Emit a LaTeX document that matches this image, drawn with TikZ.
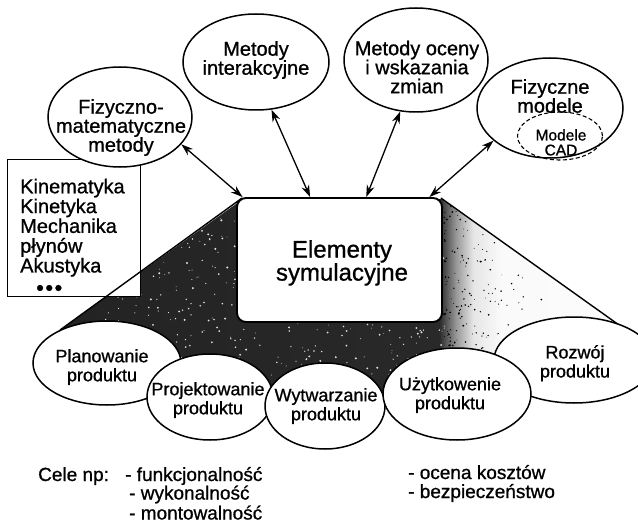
\documentclass[tikz,border=0pt]{standalone}
\usepackage{fontspec}
\setmainfont{Liberation Sans}[UprightFeatures={FakeBold=0.9}]
\usetikzlibrary{shapes.geometric, arrows.meta}

% dark stipple on the left fading out towards the right
\pgfdeclarehorizontalshading{dimfade}{100bp}{%
  color(0bp)=(black!88); color(58.5bp)=(black!84); color(60bp)=(black!40);
  color(61.5bp)=(black!10); color(64bp)=(black!2); color(100bp)=(white)}

\tikzset{
  oval/.style={draw, ellipse, line width=1.5pt, fill=white, inner sep=0pt},
  toptext/.style={font=\fontsize{20}{19}\selectfont, align=center, inner sep=0pt, anchor=north},
  bottext/.style={font=\fontsize{18}{19}\selectfont, align=center, inner sep=0pt, anchor=north},
  goal/.style={font=\fontsize{19}{19}\selectfont, inner sep=0pt, anchor=base west},
  twoway/.style={{Stealth[length=12pt,width=8pt]}-{Stealth[length=12pt,width=8pt]}, line width=1.3pt},
  edge/.style={line width=1.4pt},
}

\begin{document}
\begin{tikzpicture}[x=1pt, y=-1pt]
\useasboundingbox (0,0) rectangle (638,527);

% shaded funnel behind the central block, with a grainy stipple
\def\funnel{(243,199) -- (442,199) -- (626,330) -- (600,395) -- (100,395) -- (60,330) -- cycle}
\shade[shading=dimfade] \funnel;
\begin{scope}
  \clip \funnel;
  \pgfmathsetseed{11}
  \foreach \i in {1,...,650}{
    \pgfmathsetmacro\px{60+385*rnd}
    \pgfmathsetmacro\py{199+196*rnd}
    \pgfmathsetmacro\pr{0.35+0.8*rnd}
    \fill[white, opacity=0.85] (\px,\py) circle[radius=\pr pt];
  }
  \foreach \i in {1,...,160}{
    \pgfmathsetmacro\px{444+110*rnd*rnd}
    \pgfmathsetmacro\py{205+150*rnd}
    \pgfmathsetmacro\pr{0.4+0.6*rnd}
    \fill[black] (\px,\py) circle[radius=\pr pt];
  }
\end{scope}

% knowledge box
\node[draw, line width=1.3pt, fill=white, anchor=north west, inner sep=0pt,
      minimum width=133pt, minimum height=137pt] (kbox) at (7,159) {};
\node[font=\fontsize{20}{19.8}\selectfont, align=left, anchor=north west, inner sep=0pt]
  (ktext) at (20,178.6) {Kinematyka\\Kinetyka\\Mechanika\\płynów\\Akustyka\\[3pt]%
  \hspace*{16pt}{\fontsize{22}{22}\selectfont •\kern1.5pt•\kern1.5pt•}};

% central block
\node[draw, line width=1.9pt, fill=white, rounded corners=9pt, inner sep=0pt,
      minimum width=205pt, minimum height=124pt] (rect) at (339.5,260) {};
\node[font=\fontsize{24}{23}\selectfont, align=center, inner sep=0pt, anchor=north]
  (rtext) at (342,240) {Elementy\\symulacyjne};

% side edges of the funnel
\coordinate (fl) at (60,330);
\coordinate (fr) at (626,330);
\draw[edge] (rect.north west) ++(6,1) coordinate (rnw) -- (fl);
\draw[edge] (rect.north east) ++(-2,1) coordinate (rne) -- (fr);

% method ovals
\node[oval, minimum width=144pt, minimum height=100pt] (fm) at (120,117) {};
\node[toptext] (fmt) at (121,99) {Fizyczno-\\matematyczne\\metody};

\node[oval, minimum width=146pt, minimum height=96pt] (mi) at (256,62) {};
\node[toptext] (mit) at (256,41) {Metody\\interakcyjne};

\node[oval, minimum width=144pt, minimum height=104pt] (mo) at (416,60) {};
\node[toptext] (mot) at (417,40.5) {Metody oceny\\i wskazania\\zmian};

\node[oval, minimum width=146pt, minimum height=100pt] (fmod) at (550,108) {};
\node[toptext] (fmodt) at (550,79) {Fizyczne\\modele};
\node[draw, ellipse, dashed, line width=1.1pt, dash pattern=on 4pt off 2.5pt, inner sep=0pt,
      minimum width=85pt, minimum height=48pt] (cad) at (560,136) {};
\node[font=\fontsize{15.5}{15}\selectfont, align=center, inner sep=0pt, anchor=north]
  (cadt) at (561,129) {Modele\\CAD};

% links to the central block
\draw[twoway] (fm.-24) -- (rect.147);
\draw[twoway] (mi.-72) -- (rect.115);
\draw[twoway] (mo.-107) -- (rect.67);
\draw[twoway] (fmod.-150) -- (rect.35);

% life-cycle ovals
\node[oval, minimum width=148pt, minimum height=84pt] (plan) at (107,363) {};
\node[bottext] (plant) at (102,349) {Planowanie\\produktu};

\node[oval, minimum width=126pt, minimum height=86pt] (proj) at (210,397) {};
\node[bottext] (projt) at (208,382) {Projektowanie\\produktu};

\node[oval, minimum width=120pt, minimum height=86pt] (wyt) at (325,406) {};
\node[bottext] (wytt) at (326,388) {Wytwarzanie\\produktu};

\node[oval, minimum width=160pt, minimum height=86pt] (roz) at (574,360) {};
\node[bottext] (rozt) at (575,345) {Rozwój\\produktu};

\node[oval, minimum width=148pt, minimum height=92pt] (uzy) at (457,394) {};
\node[bottext] (uzyt) at (450,377) {Użytkowenie\\produktu};

% goals
\node[goal] (cele) at (38,481) {Cele np:};
\node[goal] (g1) at (125,481) {- funkcjonalność};
\node[goal] (g2) at (129,499.5) {- wykonalność};
\node[goal] (g3) at (129,519.5) {- montowalność};
\node[goal] (g4) at (408,479) {- ocena kosztów};
\node[goal] (g5) at (408,498) {- bezpieczeństwo};
\end{tikzpicture}
\end{document}
